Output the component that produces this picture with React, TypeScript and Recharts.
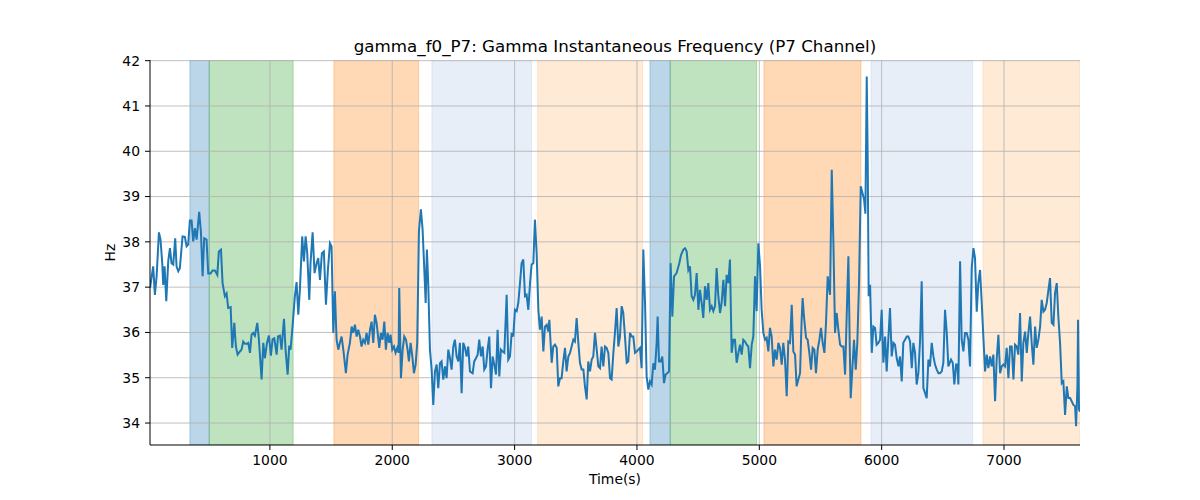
import React from 'react'
import { Label, Line, LineChart, ReferenceArea, ReferenceLine, XAxis, YAxis } from 'recharts'

// time (s) of each sample
const times = [
  20, 46, 60, 74, 93, 106, 120, 128, 139, 153, 169, 183, 196, 210, 226, 237, 251, 264, 286, 305,
  319, 332, 346, 360, 373, 387, 401, 422, 436, 450, 463, 482, 496, 515, 531, 550, 570, 583, 600, 613,
  632, 646, 659, 679, 692, 709, 722, 736, 755, 768, 782, 796, 809, 823, 837, 850, 864, 877, 897, 910,
  932, 946, 959, 976, 992, 1008, 1022, 1036, 1055, 1066, 1082, 1095, 1115, 1128, 1145, 1158, 1169, 1185, 1204, 1218,
  1232, 1245, 1264, 1278, 1292, 1305, 1322, 1332, 1349, 1365, 1382, 1395, 1409, 1425, 1441, 1458, 1474, 1491, 1504, 1518,
  1531, 1545, 1559, 1572, 1586, 1600, 1621, 1635, 1654, 1668, 1681, 1695, 1709, 1722, 1736, 1749, 1763, 1777, 1790, 1804,
  1818, 1831, 1845, 1858, 1872, 1894, 1907, 1921, 1935, 1948, 1962, 1976, 1986, 2000, 2014, 2027, 2041, 2052, 2057, 2071,
  2085, 2098, 2112, 2125, 2136, 2150, 2164, 2177, 2191, 2204, 2218, 2234, 2248, 2262, 2273, 2283, 2294, 2308, 2322, 2335,
  2349, 2363, 2376, 2390, 2403, 2417, 2431, 2444, 2458, 2472, 2485, 2499, 2512, 2526, 2540, 2553, 2567, 2580, 2594, 2608,
  2621, 2635, 2657, 2670, 2684, 2698, 2711, 2725, 2739, 2752, 2766, 2779, 2793, 2807, 2820, 2834, 2848, 2861, 2875, 2888,
  2902, 2916, 2935, 2948, 2962, 2976, 2989, 3003, 3017, 3030, 3044, 3057, 3071, 3085, 3098, 3112, 3126, 3139, 3153, 3166,
  3180, 3194, 3207, 3221, 3235, 3248, 3262, 3275, 3284, 3294, 3303, 3316, 3330, 3344, 3357, 3371, 3384, 3398, 3412, 3425,
  3439, 3453, 3466, 3480, 3493, 3507, 3521, 3534, 3548, 3562, 3575, 3589, 3602, 3616, 3630, 3643, 3657, 3671, 3684, 3698,
  3711, 3725, 3739, 3752, 3766, 3780, 3793, 3807, 3820, 3834, 3848, 3861, 3875, 3888, 3902, 3916, 3929, 3943, 3957, 3970,
  3984, 3997, 4011, 4025, 4038, 4052, 4066, 4079, 4093, 4106, 4120, 4134, 4147, 4161, 4169, 4180, 4194, 4207, 4221, 4234,
  4248, 4262, 4275, 4289, 4303, 4324, 4346, 4360, 4379, 4393, 4406, 4420, 4433, 4447, 4461, 4474, 4488, 4502, 4515, 4529,
  4542, 4556, 4570, 4583, 4597, 4611, 4624, 4638, 4651, 4665, 4679, 4692, 4706, 4720, 4733, 4747, 4760, 4774, 4788, 4801,
  4815, 4829, 4842, 4856, 4869, 4883, 4897, 4910, 4924, 4938, 4951, 4965, 4978, 4992, 5006, 5019, 5033, 5047, 5060, 5074,
  5087, 5101, 5115, 5128, 5142, 5156, 5169, 5183, 5196, 5210, 5224, 5237, 5251, 5265, 5278, 5292, 5305, 5319, 5333, 5346,
  5354, 5365, 5382, 5395, 5409, 5423, 5436, 5450, 5463, 5477, 5491, 5504, 5518, 5532, 5545, 5559, 5567, 5578, 5592, 5605,
  5619, 5632, 5646, 5660, 5673, 5687, 5701, 5714, 5728, 5741, 5747, 5760, 5774, 5788, 5801, 5815, 5829, 5842, 5856, 5867,
  5878, 5886, 5894, 5905, 5919, 5932, 5946, 5959, 5973, 5987, 6000, 6014, 6028, 6041, 6055, 6068, 6082, 6096, 6109, 6123,
  6137, 6150, 6164, 6177, 6191, 6205, 6218, 6232, 6246, 6259, 6273, 6286, 6300, 6314, 6327, 6341, 6355, 6368, 6382, 6395,
  6409, 6423, 6436, 6450, 6464, 6477, 6491, 6504, 6518, 6532, 6545, 6567, 6581, 6594, 6608, 6619, 6627, 6641, 6654, 6668,
  6681, 6695, 6709, 6722, 6736, 6750, 6763, 6777, 6790, 6804, 6818, 6831, 6845, 6859, 6872, 6886, 6899, 6913, 6927, 6940,
  6954, 6968, 6981, 6995, 7008, 7022, 7036, 7049, 7063, 7077, 7090, 7104, 7117, 7131, 7145, 7158, 7172, 7186, 7199, 7213,
  7226, 7240, 7254, 7267, 7281, 7295, 7308, 7322, 7335, 7349, 7363, 7376, 7390, 7404, 7417, 7431, 7444, 7458, 7472, 7485,
  7499, 7513, 7526, 7540, 7553, 7567, 7581, 7589, 7600, 7605, 7613, 7621
]

// instantaneous gamma frequency (Hz)
const hz = [
  36.98, 37.46, 36.83, 37.24, 38.21, 38.05, 37.53, 37.05, 37.46, 36.69, 37.57, 37.86, 37.53, 37.5, 38.08, 37.46, 37.35, 37.42, 38.12, 38.11,
  37.9, 37.94, 38.47, 38.47, 38.01, 38.3, 38.05, 38.66, 38.23, 37.24, 38.08, 38.05, 37.3, 37.3, 37.37, 37.37, 37.27, 37.79, 37.83, 37.09,
  36.8, 36.86, 36.54, 36.56, 35.66, 36.21, 35.69, 35.51, 35.58, 35.62, 35.8, 35.75, 35.75, 35.77, 35.55, 35.95, 35.99, 35.93, 36.21, 35.84,
  34.96, 35.77, 35.43, 35.77, 35.93, 35.49, 35.85, 35.87, 35.51, 35.91, 35.93, 35.62, 36.3, 35.62, 35.07, 35.71, 35.62, 36.13, 36.8, 37.11,
  36.39, 36.94, 38.12, 37.57, 38.12, 37.75, 36.72, 37.53, 38.21, 37.31, 37.53, 37.64, 37.16, 37.75, 37.79, 36.61, 37.38, 37.97, 37.9, 35.99,
  36.91, 35.84, 35.62, 35.77, 35.91, 35.62, 35.1, 35.51, 35.77, 36.13, 35.99, 36.17, 35.91, 36.06, 35.91, 35.69, 35.84, 35.77, 35.99, 35.73,
  36.06, 36.24, 35.77, 36.39, 36.21, 35.66, 35.99, 35.84, 36.24, 35.62, 35.99, 35.77, 35.95, 35.62, 35.69, 35.55, 35.66, 35.55, 36.98, 34.99,
  35.62, 35.91, 35.84, 35.62, 35.36, 35.77, 35.47, 35.1, 35.29, 35.77, 38.23, 38.72, 38.27, 37.38, 36.65, 37.83, 37.09, 35.62, 35.18, 34.4,
  35.14, 35.29, 34.77, 35.32, 35.36, 34.96, 35.25, 34.99, 35.62, 35.43, 35.18, 35.69, 35.84, 35.47, 35.36, 35.77, 34.66, 35.77, 35.66, 35.47,
  35.69, 35.14, 35.1, 35.36, 35.43, 35.51, 35.84, 35.47, 35.69, 35.18, 35.25, 35.62, 35.91, 34.77, 35.47, 35.29, 35.07, 36.06, 35.03, 35.62,
  35.58, 35.55, 36.83, 35.4, 35.47, 35.99, 35.91, 36.5, 36.47, 36.65, 37.09, 37.53, 37.61, 36.8, 36.83, 36.5, 37.09, 37.5, 37.53, 38.49,
  37.75, 36.5, 36.06, 36.35, 35.58, 36.13, 36.17, 36.02, 36.28, 35.77, 35.33, 35.69, 35.73, 35.66, 34.81, 34.99, 34.99, 35.36, 35.66, 35.14,
  35.47, 35.55, 35.69, 35.84, 35.8, 36.32, 35.77, 35.33, 35.18, 35.18, 34.81, 34.52, 35.36, 35.14, 35.4, 35.47, 35.99, 35.62, 35.25, 35.21,
  35.69, 35.25, 35.69, 35.66, 35.55, 34.99, 34.96, 35.55, 35.99, 36.54, 35.69, 35.91, 36.58, 36.43, 35.91, 35.33, 35.36, 35.99, 35.91, 35.91,
  35.55, 35.58, 35.62, 35.66, 35.21, 37.83, 36.65, 35.03, 34.74, 34.92, 34.85, 35.32, 35.18, 35.77, 36.35, 35.36, 35.36, 35.47, 34.88, 35.07,
  35.1, 35.14, 37.53, 36.35, 37.24, 37.31, 37.53, 37.71, 37.83, 37.86, 37.79, 37.38, 37.46, 36.8, 36.72, 36.83, 37.31, 36.5, 36.94, 36.65,
  36.32, 37.02, 36.72, 37.09, 36.5, 36.58, 36.47, 36.58, 37.42, 36.8, 36.43, 36.65, 37.16, 36.58, 37.27, 37.09, 37.61, 35.55, 35.84, 35.84,
  35.33, 35.55, 35.73, 35.51, 35.84, 35.8, 35.73, 35.69, 35.21, 35.73, 35.91, 37.24, 36.47, 37.97, 37.46, 36.5, 35.99, 35.84, 35.88, 35.58,
  36.1, 35.91, 35.25, 35.62, 35.4, 35.77, 35.66, 35.29, 35.77, 35.4, 34.59, 35.8, 35.77, 36.61, 35.58, 35.51, 34.81, 34.96, 35.1, 36.28,
  36.76, 36.35, 35.88, 35.84, 35.55, 35.18, 35.66, 35.62, 35.1, 35.62, 35.84, 36.1, 35.77, 35.55, 36.21, 37.24, 37.05, 36.83, 39.59, 38.05,
  35.99, 36.43, 36.06, 35.73, 35.69, 35.69, 35.07, 36.35, 37.68, 35.4, 34.55, 35.18, 35.84, 35.18, 35.77, 37.09, 39.23, 39.09, 38.94, 38.62,
  41.65, 39.81, 36.8, 37.05, 35.55, 36.13, 36.1, 35.73, 35.77, 35.84, 36.5, 35.33, 35.91, 35.14, 35.88, 36.54, 35.47, 35.77, 35.73, 35.43,
  35.25, 35.47, 34.92, 35.77, 35.84, 35.91, 35.91, 35.8, 35.21, 35.77, 35.55, 34.85, 35.1, 35.84, 37.13, 34.77, 34.66, 34.55, 35.4, 35.25,
  35.77, 35.47, 35.29, 35.18, 35.1, 35.1, 35.14, 35.33, 36.5, 35.99, 35.25, 35.4, 35.33, 34.85, 35.29, 35.29, 34.85, 37.57, 35.84, 35.58,
  35.99, 35.99, 35.84, 35.25, 37.42, 37.86, 37.64, 36.46, 37.09, 37.38, 36.65, 35.91, 35.14, 35.51, 35.21, 35.47, 35.25, 35.51, 34.48, 35.4,
  35.95, 35.1, 35.25, 35.29, 35.25, 35.66, 34.99, 35.69, 35.69, 34.96, 35.73, 35.69, 35.51, 36.43, 34.92, 35.77, 36.02, 35.55, 35.99, 36.35,
  35.77, 35.29, 36.13, 35.66, 35.84, 36.13, 36.72, 36.46, 36.5, 36.65, 36.94, 37.2, 36.21, 36.17, 36.87, 37.09, 36.35, 35.77, 34.88, 34.92,
  34.18, 34.81, 34.55, 34.55, 34.48, 34.4, 34.37, 33.93, 34.81, 36.28, 34.3, 34.25
]

const xTicks = [1000, 2000, 3000, 4000, 5000, 6000, 7000]
const yTicks = [34, 35, 36, 37, 38, 39, 40, 41, 42]

// shaded periods: start, end, colour kind
const spanStart = [346, 504, 1523, 2324, 3188, 4106, 4272, 5038, 5913, 6828]
const spanEnd = [504, 1190, 2215, 3139, 4046, 4272, 4978, 5831, 6744, 7621]
const spanKind = ['blue', 'green', 'orange', 'lightblue', 'lightorange', 'blue', 'green', 'orange', 'lightblue', 'lightorange']

const spanColors: Record<string, string> = {
  blue: '#1f77b4',
  green: '#2ca02c',
  orange: '#ff7f0e',
  lightblue: '#aec7e8',
  lightorange: '#ffbb78',
}

const data = times.map((t, i) => ({ time: t, hz: hz[i] }))
const xDomain = [times[0], times[times.length - 1]]
const yDomain = [33.515, 42.015]

const font = '"DejaVu Sans", sans-serif'
const gridColor = '#b0b0b0'

const App: React.FC = () => {
  return (
    <div style={{ position: 'absolute', left: 0, top: 0, width: 1200, height: 500, background: '#fff', fontFamily: font }}>
      <div style={{ position: 'absolute', left: 150, width: 930, top: 36, textAlign: 'center', fontSize: 16.7, lineHeight: '20px', color: '#000' }}>
        gamma_f0_P7: Gamma Instantaneous Frequency (P7 Channel)
      </div>
      <LineChart width={1200} height={500} data={data} margin={{ top: 60, right: 120, bottom: 0, left: 100 }}>
        {spanStart.map((s, i) => (
          <ReferenceArea
            key={'span' + i}
            x1={s}
            x2={spanEnd[i]}
            fill={spanColors[spanKind[i]]}
            fillOpacity={0.3}
            stroke={spanColors[spanKind[i]]}
            strokeOpacity={0.3}
            ifOverflow='hidden'
          />
        ))}
        {/* grid sits above the shaded spans, as in matplotlib */}
        {xTicks.map((t) => (
          <ReferenceLine key={'gx' + t} x={t} stroke={gridColor} strokeWidth={0.8} />
        ))}
        {yTicks.map((t) => (
          <ReferenceLine key={'gy' + t} y={t} stroke={gridColor} strokeWidth={0.8} />
        ))}
        <XAxis
          dataKey='time'
          type='number'
          domain={xDomain}
          ticks={xTicks}
          allowDataOverflow
          height={55}
          tickSize={5}
          tickMargin={5}
          tick={{ fill: '#000', fontSize: 13.9, fontFamily: font }}
          tickLine={{ stroke: '#000' }}
          axisLine={{ stroke: '#000' }}
        >
          <Label value='Time(s)' position='insideBottom' offset={16} fill='#000' fontSize={13.9} fontFamily={font} />
        </XAxis>
        <XAxis xAxisId='top' orientation='top' type='number' domain={xDomain} allowDataOverflow height={0} tick={false} tickLine={false} axisLine={{ stroke: '#000' }} />
        <YAxis
          type='number'
          domain={yDomain}
          ticks={yTicks}
          allowDataOverflow
          width={50}
          tickSize={5}
          tickMargin={5}
          tick={{ fill: '#000', fontSize: 13.9, fontFamily: font }}
          tickLine={{ stroke: '#000' }}
          axisLine={{ stroke: '#000' }}
        >
          <Label value='Hz' angle={-90} position='insideLeft' offset={10} fill='#000' fontSize={13.9} fontFamily={font} style={{ textAnchor: 'middle' }} />
        </YAxis>
        <YAxis yAxisId='right' orientation='right' type='number' domain={yDomain} allowDataOverflow width={0} tick={false} tickLine={false} axisLine={{ stroke: '#000' }} />
        <Line dataKey='hz' stroke='#1f77b4' strokeWidth={2} dot={false} isAnimationActive={false} />
      </LineChart>
    </div>
  )
}

export default App
